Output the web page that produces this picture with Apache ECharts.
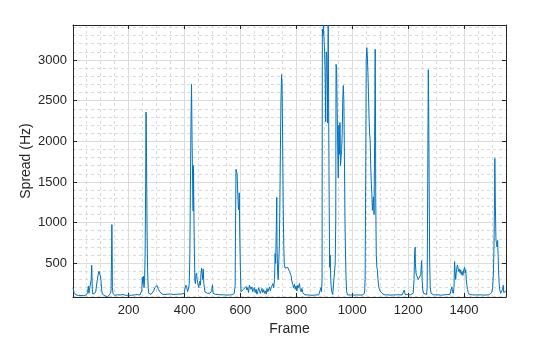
<!DOCTYPE html>
<html>
<head>
<meta charset="utf-8">
<script src="https://cdn.jsdelivr.net/npm/echarts@6/dist/echarts.min.js"></script>
<style>
html,body{margin:0;padding:0;background:#fff;}
#chart{width:560px;height:337px;}
</style>
</head>
<body>
<div id="chart"></div>
<script>
// Axis limits (frames, Hz)
const xLimits = [1, 1550];
const yLimits = [85, 3430];
const xName = 'Frame';
const yName = 'Spread (Hz)';
// Spectral spread samples: [frame, spread in Hz]
const spreadSamples = [
[1,200],[3,212],[5,140],[8,118],[12,110],[16,115],[20,105],[25,112],[30,104],[35,110],[40,100],[45,108],[50,115],[53,140],[56,220],[58,130],[61,110],[64,150],[66,300],[68,475],[70,180],[72,120],[75,110],[78,118],[82,140],[85,220],[88,300],[91,360],[94,400],[96,418],[98,400],[100,330],[102,250],[104,160],[106,120],[110,105],[115,100],[120,92],[125,88],[128,95],[132,100],[135,130],[137,160],[139,600],[140,975],[141,700],[142,200],[144,130],[146,110],
[150,105],[155,108],[160,112],[165,105],[170,110],[175,108],[180,115],[185,110],[190,105],[195,112],[200,108],[205,110],[210,106],[215,112],[220,110],[225,108],[230,115],[235,112],[240,110],[244,120],[247,160],[249,330],[251,250],[253,340],[255,200],[257,280],[259,600],[261,1500],[262,2360],[263,2300],[264,1800],[266,900],[268,400],[270,200],[272,130],[275,120],[280,118],[285,125],[290,160],[293,200],[296,180],[299,210],[302,225],[305,190],[308,170],[312,150],[316,130],[320,120],[325,118],[330,115],
[335,118],[340,120],[345,116],[350,122],[355,118],[360,115],[365,120],[370,118],[375,115],[380,120],[385,118],[390,122],[395,125],[399,130],[401,180],[403,160],[405,230],[408,200],[411,150],[414,180],[417,250],[419,600],[421,1400],[423,2200],[425,2700],[426,2690],[427,2000],[428,1740],[429,1500],[430,1200],[431,1140],[432,1700],[433,1300],[435,700],[437,280],[439,250],[441,355],[443,380],[445,300],[447,260],[449,230],[451,200],[453,250],[455,280],[457,230],[459,380],[461,438],[463,420],[465,300],[467,430],[469,250],[471,200],[473,150],[476,170],[479,140],[482,130],[485,125],[488,120],[491,130],[494,140],[497,160],[500,235],[502,130],[505,120],
[510,118],[515,112],[520,115],[525,110],[530,112],[535,108],[540,112],[545,110],[550,108],[555,112],[560,110],[565,108],[570,112],[575,115],[578,130],[581,230],[583,1200],[584,1655],[586,1640],[588,1600],[589,1614],[591,1300],[593,1160],[595,1250],[596,1366],[597,1000],[598,747],[600,400],[602,150],
[605,130],[608,150],[611,180],[614,160],[617,200],[620,215],[623,170],[626,200],[629,140],[632,230],[635,250],[638,180],[641,210],[644,150],[647,130],[650,200],[653,140],[656,180],[659,120],[662,150],[665,200],[668,170],[671,130],[674,160],[677,190],[680,140],[683,175],[686,130],[689,160],[692,120],[695,190],[698,150],[701,130],[704,210],[707,160],[710,200],[713,180],[716,250],[719,200],[722,300],[724,620],[726,500],[728,900],[730,1310],[731,700],[733,400],[735,300],[737,500],[739,700],[741,1200],[743,1900],[745,2500],[747,2820],[749,2700],[751,2000],[753,1200],[755,700],[757,480],[760,440],[763,460],[766,455],[769,450],[772,440],[775,400],[778,380],[781,350],[784,280],[787,240],[790,200],[793,240],[796,180],[799,220],[802,160],[805,230],[808,200],[811,250],[814,180],[817,150],[820,190],[823,140],[826,120],
[830,112],[835,108],[840,110],[845,105],[850,108],[855,110],[860,106],[865,108],[870,110],[875,108],[880,112],[884,130],[888,200],[890,150],[892,300],[893,3380],[895,3300],[897,3430],[899,3250],[901,3100],[903,2830],[905,2240],[907,3100],[909,3050],[911,2700],[912,2224],[914,3430],[915,3430],[917,1500],[919,450],[921,600],[923,300],[925,200],[927,150],[930,115],[933,110],[936,120],[939,500],[941,1022],[942,2946],[944,2900],[946,2400],[948,1893],[950,1550],[952,2200],[954,1840],[956,2231],[958,1700],[960,1800],[962,1900],[964,2100],[966,2512],[968,2686],[970,2500],[972,1800],[974,1000],[976,600],[978,300],[980,150],[983,110],
[986,112],[990,115],[995,110],[1000,112],[1005,108],[1010,112],[1015,110],[1020,113],[1025,110],[1030,112],[1035,108],[1040,115],[1044,130],[1046,300],[1048,1500],[1050,3000],[1052,3152],[1054,3050],[1056,2843],[1058,2600],[1060,2300],[1062,2100],[1064,2017],[1066,1700],[1068,1500],[1070,1358],[1072,1151],[1074,1250],[1076,1316],[1078,1100],[1080,2000],[1082,3131],[1083,2500],[1084,1300],[1086,600],[1088,450],[1090,420],[1092,300],[1095,200],[1098,180],[1101,150],[1104,160],[1107,130],[1110,120],[1113,105],
[1118,110],[1123,108],[1128,112],[1133,110],[1138,108],[1143,112],[1148,110],[1153,108],[1158,112],[1163,110],[1168,112],[1173,115],[1178,110],[1183,120],[1186,170],[1189,115],[1193,112],[1198,115],[1203,110],[1208,112],[1213,115],[1218,130],[1221,300],[1223,620],[1225,698],[1226,500],[1228,380],[1230,350],[1233,330],[1236,300],[1239,290],[1242,310],[1245,360],[1248,532],[1250,300],[1252,180],[1255,130],[1258,115],[1262,112],[1266,115],[1268,200],[1270,1500],[1272,2880],[1273,2600],[1275,1500],[1277,500],[1279,200],[1282,130],[1286,115],
[1290,112],[1295,110],[1300,112],[1305,108],[1310,110],[1315,112],[1320,108],[1325,110],[1330,112],[1335,110],[1340,115],[1345,112],[1350,118],[1353,140],[1356,210],[1358,170],[1361,130],[1364,200],[1366,520],[1368,400],[1370,300],[1373,420],[1376,480],[1378,450],[1380,400],[1383,430],[1386,380],[1388,420],[1390,360],[1393,400],[1396,350],[1399,420],[1402,450],[1404,380],[1406,420],[1408,300],[1410,230],[1412,180],[1415,140],[1419,115],
[1425,110],[1430,112],[1435,108],[1440,110],[1445,112],[1450,110],[1455,108],[1460,112],[1465,110],[1470,108],[1475,112],[1480,110],[1485,115],[1490,112],[1495,118],[1499,140],[1502,200],[1505,370],[1507,700],[1509,1300],[1510,1790],[1512,1200],[1514,800],[1516,740],[1518,700],[1520,780],[1522,580],[1524,350],[1526,230],[1528,170],[1531,130],[1535,135],[1538,180],[1540,230],[1542,140],[1545,120],[1548,130],[1550,160]
];

const axisColor = '#262626';
const fontFam = '"Liberation Sans", Arial, Helvetica, sans-serif';
const majorGrid = {show: true, lineStyle: {color: '#dcdcdc', width: 1, type: 'solid'}};
const minorGrid = {show: true, lineStyle: {color: '#dadada', width: 1, type: [3, 3]}};

function xAxisBase(extra) {
  return Object.assign({
    type: 'value', min: xLimits[0], max: xLimits[1], splitNumber: 8,
    axisLine: {show: true, onZero: false, lineStyle: {color: axisColor, width: 1}},
    axisTick: {show: true, inside: true, length: 4, lineStyle: {color: axisColor}},
    minorTick: {show: false, splitNumber: 4}
  }, extra);
}
function yAxisBase(extra) {
  return Object.assign({
    type: 'value', min: yLimits[0], max: yLimits[1], splitNumber: 5,
    axisLine: {show: true, onZero: false, lineStyle: {color: axisColor, width: 1}},
    axisTick: {show: true, inside: true, length: 4, lineStyle: {color: axisColor}},
    minorTick: {show: false, splitNumber: 5}
  }, extra);
}
const labelFmt = (step) => (v) => (v % step === 0 && v !== 0) ? String(v) : '';

const chart = echarts.init(document.getElementById('chart'), null, {renderer: 'canvas'});
chart.setOption({
  animation: false,
  backgroundColor: '#ffffff',
  grid: {left: 73, right: 54, top: 25, bottom: 40, containLabel: false, outerBoundsMode: 'none'},
  xAxis: [
    xAxisBase({
      position: 'bottom',
      name: xName, nameLocation: 'middle', nameGap: 25, nameMoveOverlap: false,
      nameTextStyle: {color: axisColor, fontSize: 14, fontFamily: fontFam},
      axisLabel: {show: true, color: axisColor, fontSize: 13, fontFamily: fontFam, margin: 7,
        showMinLabel: false, showMaxLabel: false, formatter: labelFmt(200)},
      splitLine: majorGrid,
      minorSplitLine: minorGrid
    }),
    xAxisBase({position: 'top', axisLabel: {show: false}, splitLine: {show: false}, minorSplitLine: {show: false}})
  ],
  yAxis: [
    yAxisBase({
      position: 'left',
      name: yName, nameLocation: 'middle', nameGap: 40, nameMoveOverlap: false,
      nameTextStyle: {color: axisColor, fontSize: 14, fontFamily: fontFam},
      axisLabel: {show: true, color: axisColor, fontSize: 13, fontFamily: fontFam, margin: 6,
        showMinLabel: false, showMaxLabel: false, formatter: labelFmt(500)},
      splitLine: majorGrid,
      minorSplitLine: minorGrid
    }),
    yAxisBase({position: 'right', axisLabel: {show: false}, splitLine: {show: false}, minorSplitLine: {show: false}})
  ],
  series: [{
    type: 'line',
    xAxisIndex: 0, yAxisIndex: 0,
    data: spreadSamples,
    showSymbol: false,
    symbol: 'none',
    clip: true,
    lineStyle: {color: '#0072BD', width: 1},
    itemStyle: {color: '#0072BD'}
  }]
});
</script>
</body>
</html>
